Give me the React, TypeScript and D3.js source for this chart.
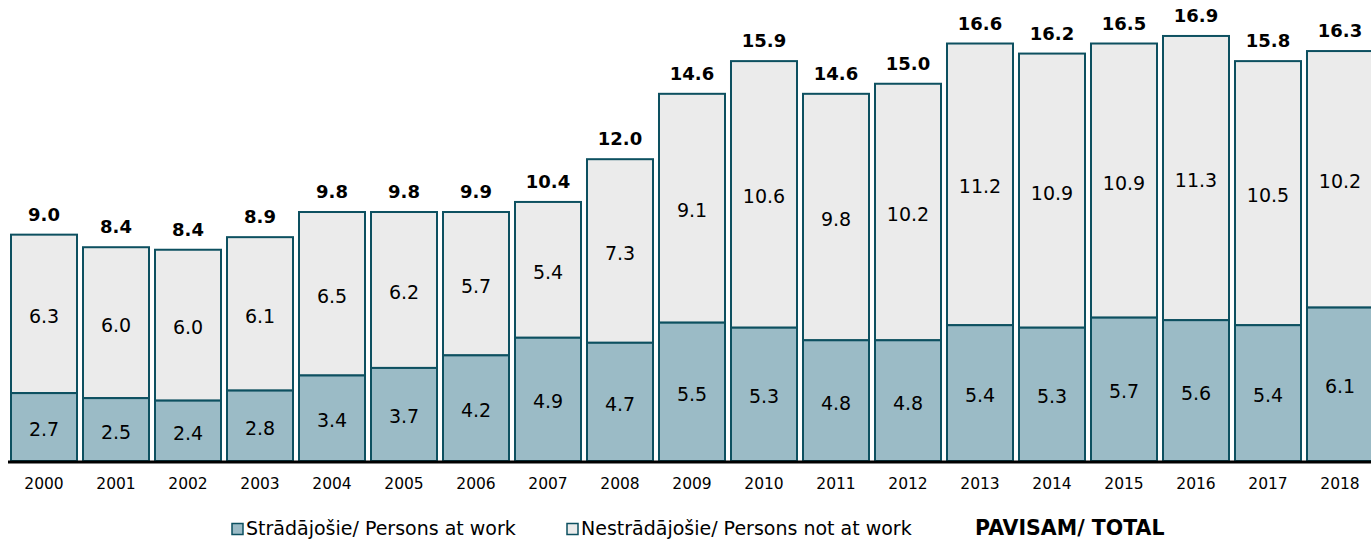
import React, { useEffect, useRef } from "react";
import * as d3 from "d3";

const years = ["2000", "2001", "2002", "2003", "2004", "2005", "2006", "2007", "2008", "2009", "2010", "2011", "2012", "2013", "2014", "2015", "2016", "2017", "2018"];
const atWork = [2.7, 2.5, 2.4, 2.8, 3.4, 3.7, 4.2, 4.9, 4.7, 5.5, 5.3, 4.8, 4.8, 5.4, 5.3, 5.7, 5.6, 5.4, 6.1];
const notAtWork = [6.3, 6.0, 6.0, 6.1, 6.5, 6.2, 5.7, 5.4, 7.3, 9.1, 10.6, 9.8, 10.2, 11.2, 10.9, 10.9, 11.3, 10.5, 10.2];
const totals = [9.0, 8.4, 8.4, 8.9, 9.8, 9.8, 9.9, 10.4, 12.0, 14.6, 15.9, 14.6, 15.0, 16.6, 16.2, 16.5, 16.9, 15.8, 16.3];

const FONT = "Verdana, 'DejaVu Sans', sans-serif";
const STROKE = "#0d5060";

function App() {
  const ref = useRef(null);

  useEffect(() => {
    const svg = d3.select(ref.current);
    svg.selectAll("*").remove();

    const x = d3.scaleBand().domain(years).range([8, 1376]).paddingInner(0.0833).paddingOuter(0.0417);
    const y = d3.scaleLinear().domain([0, 10]).range([461, 209.5]);

    const rows = years.map((yr, i) => ({ yr, a: atWork[i], b: notAtWork[i], t: totals[i] }));

    const g = svg.append("g");

    // top segment (not at work)
    g.selectAll("rect.top")
      .data(rows)
      .enter()
      .append("rect")
      .attr("x", (d) => x(d.yr)!)
      .attr("y", (d) => y(d.a + d.b))
      .attr("width", x.bandwidth())
      .attr("height", (d) => y(d.a) - y(d.a + d.b))
      .attr("fill", "#ebebeb")
      .attr("stroke", STROKE)
      .attr("stroke-width", 2);

    // bottom segment (at work)
    g.selectAll("rect.bot")
      .data(rows)
      .enter()
      .append("rect")
      .attr("x", (d) => x(d.yr)!)
      .attr("y", (d) => y(d.a))
      .attr("width", x.bandwidth())
      .attr("height", (d) => y(0) - y(d.a))
      .attr("fill", "#9bbbc6")
      .attr("stroke", STROKE)
      .attr("stroke-width", 2);

    const cx = (d: any) => x(d.yr)! + x.bandwidth() / 2;

    g.selectAll("text.a")
      .data(rows)
      .enter()
      .append("text")
      .attr("x", cx)
      .attr("y", (d) => (y(0) + y(d.a)) / 2 + 2)
      .attr("text-anchor", "middle")
      .attr("dominant-baseline", "central")
      .attr("font-family", FONT)
      .attr("font-size", 19)
      .text((d) => d.a.toFixed(1));

    g.selectAll("text.b")
      .data(rows)
      .enter()
      .append("text")
      .attr("x", cx)
      .attr("y", (d) => (y(d.a) + y(d.a + d.b)) / 2 + 2)
      .attr("text-anchor", "middle")
      .attr("dominant-baseline", "central")
      .attr("font-family", FONT)
      .attr("font-size", 19)
      .text((d) => d.b.toFixed(1));

    g.selectAll("text.t")
      .data(rows)
      .enter()
      .append("text")
      .attr("x", cx)
      .attr("y", (d) => y(d.a + d.b) - 14)
      .attr("text-anchor", "middle")
      .attr("font-family", FONT)
      .attr("font-weight", "bold")
      .attr("font-size", 18)
      .text((d) => d.t.toFixed(1));

    // axis line
    svg.append("line")
      .attr("x1", 8).attr("x2", 1371)
      .attr("y1", 462).attr("y2", 462)
      .attr("stroke", "#000").attr("stroke-width", 3);

    g.selectAll("text.yr")
      .data(years)
      .enter()
      .append("text")
      .attr("x", (d) => x(d)! + x.bandwidth() / 2)
      .attr("y", 489)
      .attr("text-anchor", "middle")
      .attr("font-family", FONT)
      .attr("font-size", 15.5)
      .text((d) => d);

    // legend
    const leg = svg.append("g").attr("font-family", FONT).attr("font-size", 19);
    const items = [
      { x: 232, fill: "#9bbbc6", label: "Strādājošie/ Persons at work" },
      { x: 567, fill: "#ebebeb", label: "Nestrādājošie/ Persons not at work" },
    ];
    items.forEach((it) => {
      leg.append("rect").attr("x", it.x).attr("y", 523.5).attr("width", 11).attr("height", 11)
        .attr("fill", it.fill).attr("stroke", STROKE).attr("stroke-width", 1.5);
      leg.append("text").attr("x", it.x + 14).attr("y", 535).text(it.label);
    });
    leg.append("text").attr("x", 975).attr("y", 535).attr("font-weight", "bold").attr("font-size", 20.5).text("PAVISAM/ TOTAL");
  }, []);

  return <svg ref={ref} width={1371} height={540} style={{ position: "absolute", left: 0, top: 0 }} />;
}

export default App;
